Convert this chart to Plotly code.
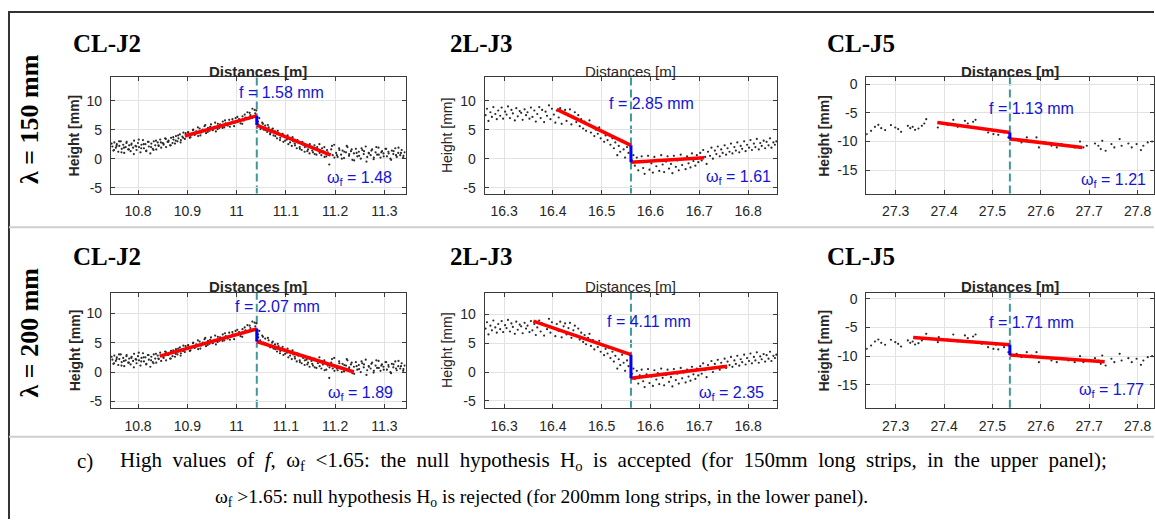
import plotly.graph_objects as go

W, H = 1155, 521

# ---------------- data ----------------
j2_x = [10.748, 10.750, 10.752, 10.755, 10.757, 10.760, 10.762, 10.765, 10.767, 10.770, 10.772, 10.775, 10.777, 10.780,
        10.782, 10.785, 10.787, 10.790, 10.792, 10.795, 10.797, 10.800, 10.802, 10.805, 10.807, 10.810, 10.812, 10.815,
        10.817, 10.820, 10.822, 10.825, 10.827, 10.830, 10.832, 10.835, 10.837, 10.840, 10.842, 10.845, 10.847, 10.850,
        10.852, 10.855, 10.857, 10.860, 10.862, 10.865, 10.867, 10.870, 10.872, 10.875, 10.877, 10.880, 10.882, 10.885,
        10.887, 10.890, 10.892, 10.895,
        10.898, 10.902, 10.905, 10.908, 10.912, 10.915, 10.918, 10.922, 10.925, 10.928, 10.932, 10.935, 10.938, 10.942,
        10.945, 10.948, 10.952, 10.955, 10.958, 10.962, 10.965, 10.968, 10.972, 10.975, 10.978, 10.982, 10.985, 10.988,
        10.992, 10.995, 10.998, 11.002, 11.005, 11.008, 11.012, 11.015, 11.018, 11.022, 11.025, 11.028, 11.032, 11.035,
        11.038, 11.040,
        11.044, 11.046, 11.048, 11.052, 11.055, 11.058, 11.062, 11.065, 11.068, 11.072, 11.075, 11.078, 11.082, 11.085,
        11.088, 11.092, 11.095, 11.098, 11.102, 11.105, 11.108, 11.112, 11.115, 11.118, 11.122, 11.125, 11.128, 11.132,
        11.135, 11.138, 11.142, 11.145, 11.148, 11.152, 11.155, 11.158, 11.162, 11.165, 11.168, 11.172, 11.175, 11.178,
        11.182, 11.185, 11.188, 11.192, 11.195, 11.198,
        11.202, 11.205, 11.208, 11.212, 11.215, 11.218, 11.222, 11.225, 11.228, 11.232, 11.235, 11.238, 11.242, 11.245,
        11.248, 11.252, 11.255, 11.258, 11.262, 11.265, 11.268, 11.272, 11.275, 11.278, 11.282, 11.285, 11.288, 11.292,
        11.295, 11.298, 11.302, 11.305, 11.308, 11.312, 11.315, 11.318, 11.322, 11.325, 11.328, 11.332, 11.335, 11.338,
        11.341,
        # second batch of readings
        10.7465, 10.7515, 10.7565, 10.7615, 10.7665, 10.7715, 10.7765, 10.7815, 10.7865, 10.7915, 10.7965, 10.8015,
        10.8065, 10.8115, 10.8165, 10.8215, 10.8265, 10.8315, 10.8365, 10.8415, 10.8465,
        10.8515, 10.8565, 10.8615, 10.8665, 10.8715, 10.8765, 10.8815, 10.8865, 10.8915, 10.8965,
        10.9015, 10.9065, 10.9115, 10.9165, 10.9215, 10.9265, 10.9315, 10.9365, 10.9415, 10.9465, 10.9515, 10.9565,
        10.9615, 10.9665, 10.9715, 10.9765, 10.9815, 10.9865, 10.9915, 10.9965, 11.0015, 11.0065, 11.0115, 11.0165,
        11.0215, 11.0265, 11.0315, 11.0365,
        11.0435, 11.0485, 11.0535, 11.0585, 11.0635, 11.0685, 11.0735, 11.0785, 11.0835, 11.0885, 11.0935, 11.0985,
        11.1035, 11.1085, 11.1135, 11.1185, 11.1235, 11.1285, 11.1335, 11.1385, 11.1435, 11.1485, 11.1535, 11.1585,
        11.1635, 11.1685, 11.1735, 11.1785, 11.1835, 11.1885, 11.1935, 11.1985,
        11.2035, 11.2085, 11.2135, 11.2185, 11.2235, 11.2285, 11.2335, 11.2385, 11.2435, 11.2485, 11.2535, 11.2585,
        11.2635, 11.2685, 11.2735, 11.2785, 11.2835, 11.2885, 11.2935, 11.2985, 11.3035, 11.3085, 11.3135, 11.3185,
        11.3235, 11.3285, 11.3335, 11.3385]
j2_y = [2.1, 1.4, 2.8, 1.9, 2.5, 1.2, 2.2, 3.0, 1.7, 2.4, 1.0, 2.0, 2.9, 1.6,
        2.3, 1.3, 2.6, 1.9, 3.1, 2.2, 1.5, 2.7, 2.0, 1.1, 2.4, 3.2, 1.8, 2.5,
        1.4, 2.9, 2.1, 0.9, 2.6, 1.7, 3.0, 2.3, 1.6, 2.8, 2.2, 3.3, 1.9, 2.7,
        2.4, 3.5, 2.0, 2.9, 3.1, 2.3, 3.6, 2.7, 3.3, 2.6, 3.9, 3.0, 3.5, 4.2,
        3.2, 3.8, 4.5, 3.4,
        4.0, 4.6, 3.6, 4.3, 5.0, 4.1, 4.7, 3.9, 5.2, 4.5, 4.9, 5.6, 4.4, 5.3,
        4.8, 5.9, 5.0, 5.5, 4.7, 6.0, 5.3, 5.8, 6.4, 5.4, 6.1, 5.7, 6.7, 6.0,
        6.4, 5.6, 7.0, 6.3, 6.8, 6.1, 7.3, 6.6, 7.1, 8.0, 6.9, 7.5, 8.6, 7.2,
        7.8, 8.3,
        5.9, 7.0, 5.4, 6.2, 5.0, 5.7, 4.6, 5.4, 4.2, 5.0, 4.0, 4.7, 3.5, 4.4,
        3.2, 4.0, 2.9, 3.8, 3.3, 2.5, 3.5, 2.2, 3.0, 2.6, 1.8, 2.8, 2.0, 1.5,
        2.4, 1.2, 2.1, 1.6, 0.9, 1.9, 1.1, 2.3, 0.7, 1.5, 2.5, 0.6, 1.3, 2.0,
        0.4, 1.1, -1.0, 1.6, 0.6, 2.4,
        1.0, 0.3, 1.8, 0.7, 1.4, 0.1, 1.1, 2.0, 0.5, 1.3, -0.2, 0.9, 1.7, 0.4,
        1.2, 0.0, 1.5, 0.8, 2.1, 0.3, 1.0, 0.6, 1.6, -0.1, 1.1, 0.7, 1.9, 0.2,
        1.3, 0.9, 1.7, 0.4, 1.2, 0.0, 1.4, 0.8, 1.8, 0.3, 1.0, 0.6, 1.5, 0.2,
        1.1,
        # second batch of readings
        2.6, 1.5, 2.2, 3.0, 1.1, 1.9, 2.7, 1.6, 2.4, 0.8, 2.1, 3.3,
        1.8, 2.5, 1.3, 2.9, 2.0, 1.5, 3.1, 2.3, 2.8,
        2.6, 3.4, 2.9, 2.3, 3.7, 3.1, 4.0, 2.8, 3.6, 4.4,
        4.5, 3.7, 4.9, 4.3, 5.4, 4.0, 5.0, 5.8, 4.6, 5.5, 4.9, 6.2,
        5.1, 5.9, 5.3, 6.6, 6.0, 5.5, 6.8, 6.2, 7.2, 6.5, 6.0, 7.6,
        6.8, 7.9, 7.0, 8.4,
        6.4, 5.1, 6.0, 4.9, 5.8, 4.4, 5.2, 3.9, 4.8, 3.6, 4.3, 3.1,
        4.0, 2.8, 3.7, 2.3, 3.2, 1.7, 2.9, 2.0, 1.3, 2.5, 1.4, 0.8,
        2.0, 1.0, 1.8, 0.3, 1.5, 0.8, 2.2, 0.2,
        0.6, 1.5, 0.0, 1.2, 2.2, 0.8, 1.6, -0.3, 1.0, 0.5, 1.8, 1.3,
        -0.5, 0.9, 1.4, 0.2, 2.0, 0.7, 1.1, 0.4, 1.7, 0.9, -0.2, 1.3,
        0.6, 1.9, 1.0, 0.5]

j3_x = [16.262, 16.265, 16.268, 16.272, 16.275, 16.278, 16.282, 16.285, 16.288, 16.292, 16.295, 16.298, 16.302, 16.305,
        16.308, 16.312, 16.315, 16.318, 16.322, 16.325, 16.328, 16.332, 16.335, 16.338, 16.342, 16.345, 16.348, 16.352,
        16.355, 16.358, 16.362, 16.365, 16.368, 16.372, 16.375, 16.378, 16.382, 16.385, 16.388, 16.392, 16.395, 16.398,
        16.402, 16.405, 16.408, 16.412, 16.415, 16.418, 16.422, 16.425, 16.428, 16.432, 16.435, 16.438, 16.442, 16.445,
        16.448, 16.452, 16.455, 16.458, 16.462, 16.465, 16.468, 16.472, 16.475, 16.478, 16.482, 16.485, 16.488, 16.492,
        16.495, 16.498, 16.502, 16.505, 16.508, 16.512, 16.515, 16.518, 16.522, 16.525, 16.528, 16.532, 16.535, 16.538,
        16.542, 16.545, 16.548, 16.552, 16.555,
        16.562, 16.565, 16.568, 16.572, 16.575, 16.578, 16.582, 16.585, 16.588, 16.592, 16.595, 16.598, 16.602, 16.605,
        16.608, 16.612, 16.615, 16.618, 16.622, 16.625, 16.628, 16.632, 16.635, 16.638, 16.642, 16.645, 16.648, 16.652,
        16.655, 16.658, 16.662, 16.665, 16.668, 16.672, 16.675, 16.678, 16.682, 16.685, 16.688, 16.692, 16.695, 16.698,
        16.702, 16.705, 16.708, 16.712, 16.715, 16.718, 16.722, 16.725, 16.728, 16.732, 16.735, 16.738, 16.742, 16.745,
        16.748, 16.752, 16.755, 16.758, 16.762, 16.765, 16.768, 16.772, 16.775, 16.778, 16.782, 16.785, 16.788, 16.792,
        16.795, 16.798, 16.802, 16.805, 16.808, 16.812, 16.815, 16.818, 16.822, 16.825, 16.828, 16.832, 16.835, 16.838,
        16.842, 16.845, 16.848, 16.852, 16.855, 16.858]
j3_y = [7.5, 8.6, 6.5, 8.0, 7.2, 8.9, 7.7, 6.8, 8.3, 7.4, 8.8, 6.9, 8.1, 7.6,
        9.0, 7.0, 8.4, 7.8, 6.6, 8.7, 7.3, 8.2, 7.9, 6.7, 8.5, 7.5, 8.0, 6.9,
        8.8, 7.2, 8.3, 6.4, 7.7, 8.9, 7.0, 8.4, 6.3, 8.1, 7.4, 9.2, 6.8, 8.6,
        7.6, 6.2, 8.3, 7.1, 8.7, 6.0, 7.9, 8.4, 6.5, 7.6, 8.5, 5.9, 7.2, 8.0,
        6.3, 7.5, 5.6, 6.8, 5.2, 6.4, 4.8, 5.9, 6.6, 4.5, 5.5, 3.9, 5.0, 4.3,
        5.4, 3.5, 4.6, 2.9, 4.0, 3.2, 4.2, 2.4, 3.5, 1.8, 2.8, 0.6, 2.2, 1.2,
        3.0, 1.6, 0.2, 2.0, 1.0,
        -0.3, 0.6, -1.2, 0.2, -2.0, -0.6, 0.4, -1.6, -2.6, -0.4, 0.5, -1.9, -0.8, -2.4,
        0.3, -1.3, -0.2, -2.1, 0.6, -1.0, -2.3, -0.5, 0.4, -1.7, -0.9, -2.5, 0.5, -1.4,
        -0.3, -2.0, 0.7, -1.1, -0.1, -1.8, 0.4, -0.8, -1.5, 0.9, -0.4, -1.2, 0.6, -0.6,
        1.0, -0.3, 1.5, 0.3, -0.9, 1.2, 0.5, 1.9, 0.0, 1.4, 0.8, 2.1, 0.4, 1.6,
        1.0, 2.3, 0.7, 1.8, 1.2, 2.6, 0.9, 2.0, 1.4, 2.8, 1.1, 2.2, 1.7, 3.0,
        1.3, 2.4, 1.9, 3.2, 1.5, 2.6, 2.0, 3.4, 1.6, 2.7, 2.2, 3.1, 1.8, 2.9,
        2.3, 3.5, 1.9, 2.8, 2.4, 3.0]

j5_x = [27.240, 27.249, 27.257, 27.264, 27.270, 27.278, 27.290, 27.299, 27.305, 27.311, 27.325, 27.330, 27.335, 27.340,
        27.347, 27.354, 27.359, 27.363, 27.387, 27.389, 27.407, 27.419, 27.428, 27.443, 27.449, 27.460, 27.465, 27.478,
        27.491, 27.502, 27.507, 27.512, 27.524, 27.533, 27.550, 27.560, 27.571, 27.581, 27.591, 27.596, 27.608, 27.622,
        27.633, 27.643, 27.657, 27.670, 27.681, 27.688, 27.695, 27.712, 27.719, 27.724, 27.727, 27.734, 27.746, 27.752,
        27.763, 27.767, 27.781, 27.788, 27.798, 27.807, 27.812, 27.821, 27.830]
j5_y = [-8.71, -8.14, -7.44, -7.09, -7.67, -8.01, -7.14, -7.56, -7.84, -8.31, -7.26, -7.67, -7.44, -7.96,
        -7.73, -7.26, -6.86, -6.10, -7.56, -6.68, -7.09, -6.22, -7.44, -6.39, -6.86, -6.57, -6.22, -7.84,
        -8.43, -8.71, -8.01, -8.83, -8.43, -9.30, -9.58, -10.17, -9.30, -9.88, -9.30, -11.04, -10.17, -10.75,
        -11.04, -10.45, -10.75, -11.04, -10.00, -11.04, -10.75, -10.35, -10.75, -11.33, -9.88, -11.62, -10.45, -11.04,
        -9.58, -10.75, -10.35, -11.04, -10.45, -11.50, -10.75, -10.17, -10.00]

panel_names = ["CL-J2", "2L-J3", "CL-J5"]
row_labels = ["λ = 150 mm", "λ = 200 mm"]
scatter_x = [j2_x, j3_x, j5_x]
scatter_y = [j2_y, j3_y, j5_y]

x_ticks = [[10.8, 10.9, 11.0, 11.1, 11.2, 11.3],
           [16.3, 16.4, 16.5, 16.6, 16.7, 16.8],
           [27.3, 27.4, 27.5, 27.6, 27.7, 27.8]]
x_ticktext = [["10.8", "10.9", "11", "11.1", "11.2", "11.3"],
              ["16.3", "16.4", "16.5", "16.6", "16.7", "16.8"],
              ["27.3", "27.4", "27.5", "27.6", "27.7", "27.8"]]
y_ticks = [[-5, 0, 5, 10], [-5, 0, 5, 10], [-15, -10, -5, 0]]
y_ticktext = [["-5", "0", "5", "10"], ["-5", "0", "5", "10"], ["-15", "-10", "-5", "0"]]
x_ranges = [[10.745, 11.343], [16.26, 16.86], [27.239, 27.834]]
y_ranges = [[[-6.0, 14.0], [-6.0, 14.0], [-19.1, 1.2]],
            [[-6.1, 13.5], [-6.2, 13.7], [-19.0, 1.05]]]

joint_x = [11.041, 16.56, 27.536]
# fitted segments per row / panel
fit_left_x0 = [[10.895, 16.408, 27.386], [10.844, 16.36, 27.336]]
fit_left_y0 = [[3.9, 8.5, -6.7], [2.7, 8.8, -6.75]]
fit_left_y1 = [[7.4, 2.3, -8.45], [7.35, 3.0, -8.0]]
fit_right_y0 = [[5.8, -0.6, -9.55], [5.2, -1.1, -9.8]]
fit_right_x1 = [[11.191, 16.71, 27.686], [11.238, 16.757, 27.732]]
fit_right_y1 = [[0.6, 0.15, -11.05], [0.0, 1.0, -10.95]]
f_values = [["1.58", "2.85", "1.13"], ["2.07", "4.11", "1.71"]]
omega_values = [["1.48", "1.61", "1.21"], ["1.89", "2.35", "1.77"]]

caption_1 = "High values of <i>f</i>, ω<sub>f</sub> <1.65: the null hypothesis H<sub>o</sub> is accepted (for 150mm long strips, in the upper panel);"
caption_2 = "ω<sub>f</sub> >1.65: null hypothesis H<sub>o</sub> is rejected (for 200mm long strips, in the lower panel)."

# ---------------- layout geometry (pixels) ----------------
col_px = [(111, 406), (485, 778), (867, 1155)]
row_px = [(76, 193), (293, 409)]
ytitle_px = [75, 448, 825]
title_px = [71, 448, 826]
title_y = [42, 256]
f_pos = [[(237, 91), (608, 102), (988, 107)], [(233, 307), (606, 322), (988, 323)]]
w_pos = [[(325, 178), (705, 177), (1080, 180)], [(326, 395), (698, 395), (1078, 392)]]
bold_axis = [True, False, True]


def px(x):
    return x / W


def py(y):
    return 1 - y / H


TXT = "#262626"
BLUE = "rgb(20,20,215)"
SANS = "Liberation Sans, Arial, sans-serif"
SERIF = "Liberation Serif, Times New Roman, serif"

fig = go.Figure()
annotations = []
shapes = []
layout_axes = {}

for r in range(2):
    for c in range(3):
        i = r * 3 + c + 1
        xa = "x" if i == 1 else f"x{i}"
        ya = "y" if i == 1 else f"y{i}"
        xk = "xaxis" if i == 1 else f"xaxis{i}"
        yk = "yaxis" if i == 1 else f"yaxis{i}"
        x0p, x1p = col_px[c]
        y0p, y1p = row_px[r]
        common = dict(showgrid=True, gridcolor="#e3e3e3", gridwidth=1, zeroline=False,
                      showline=True, linecolor="#3a3a3a", linewidth=1, mirror="ticks",
                      ticks="inside", ticklen=4, tickcolor="#3a3a3a",
                      tickfont=dict(family=SANS, size=14, color=TXT))
        layout_axes[xk] = dict(common, domain=[px(x0p), min(1.0, px(x1p))], anchor=ya,
                               range=x_ranges[c], tickvals=x_ticks[c], ticktext=x_ticktext[c],
                               ticklabelstandoff=5)
        layout_axes[yk] = dict(common, domain=[py(y1p), py(y0p)], anchor=xa,
                               range=y_ranges[r][c], tickvals=y_ticks[c], ticktext=y_ticktext[c],
                               ticklabelstandoff=5)

        fig.add_trace(go.Scatter(x=scatter_x[c], y=scatter_y[c], mode="markers", xaxis=xa, yaxis=ya,
                                 marker=dict(size=2.2, color="#2a2a2a"), showlegend=False, hoverinfo="skip"))
        jx = joint_x[c]
        fig.add_trace(go.Scatter(x=[fit_left_x0[r][c], jx], y=[fit_left_y0[r][c], fit_left_y1[r][c]],
                                 mode="lines", line=dict(color="#ff0000", width=3.5), xaxis=xa, yaxis=ya,
                                 showlegend=False, hoverinfo="skip"))
        fig.add_trace(go.Scatter(x=[jx, fit_right_x1[r][c]], y=[fit_right_y0[r][c], fit_right_y1[r][c]],
                                 mode="lines", line=dict(color="#ff0000", width=3.5), xaxis=xa, yaxis=ya,
                                 showlegend=False, hoverinfo="skip"))
        fig.add_trace(go.Scatter(x=[jx, jx], y=[fit_left_y1[r][c], fit_right_y0[r][c]],
                                 mode="lines", line=dict(color="#0000ff", width=3), xaxis=xa, yaxis=ya,
                                 showlegend=False, hoverinfo="skip"))
        shapes.append(dict(type="line", xref=xa, yref=f"{ya} domain", x0=jx, x1=jx, y0=0, y1=1,
                           line=dict(color="rgb(62,154,154)", width=2, dash="8px,4px"), layer="below"))

        bw = bold_axis[c]
        annotations.append(dict(x=px((x0p + min(x1p, 1155)) / 2) if c < 2 else px(1011), y=py(y0p - 6),
                                xref="paper", yref="paper", showarrow=False,
                                text="<b>Distances [m]</b>" if bw else "Distances [m]",
                                font=dict(family=SANS, size=15, color=TXT), xanchor="center", yanchor="middle"))
        annotations.append(dict(x=px(ytitle_px[c]), y=py((y0p + y1p) / 2), xref="paper", yref="paper",
                                showarrow=False, textangle=-90,
                                text="<b>Height [mm]</b>" if bw else "Height [mm]",
                                font=dict(family=SANS, size=14, color=TXT), xanchor="center", yanchor="middle"))
        annotations.append(dict(x=px(title_px[c]), y=py(title_y[r]), xref="paper", yref="paper", showarrow=False,
                                text=f"<b>{panel_names[c]}</b>", font=dict(family=SERIF, size=25, color="black"),
                                xanchor="left", yanchor="middle"))
        fx, fy = f_pos[r][c]
        annotations.append(dict(x=px(fx), y=py(fy), xref="paper", yref="paper", showarrow=False,
                                text=f"f = {f_values[r][c]} mm", font=dict(family=SANS, size=16, color=BLUE),
                                xanchor="left", yanchor="middle"))
        wx, wy = w_pos[r][c]
        annotations.append(dict(x=px(wx), y=py(wy), xref="paper", yref="paper", showarrow=False,
                                text=f"ω<sub>f</sub> = {omega_values[r][c]}", font=dict(family=SANS, size=16, color=BLUE),
                                xanchor="left", yanchor="middle"))

# row labels
for r, yc in enumerate([118, 333]):
    annotations.append(dict(x=px(29), y=py(yc), xref="paper", yref="paper", showarrow=False, textangle=-90,
                            text=f"<b>{row_labels[r]}</b>", font=dict(family=SERIF, size=26, color="black"),
                            xanchor="center", yanchor="middle"))

# caption (first line is justified in the original: slightly wider word gaps)
caption_1_justified = caption_1.replace(" ", " \u00a0")
annotations.append(dict(x=px(75), y=py(463), xref="paper", yref="paper", showarrow=False, text="c)",
                        font=dict(family=SERIF, size=21, color="black"), xanchor="left", yanchor="middle"))
annotations.append(dict(x=px(118), y=py(463), xref="paper", yref="paper", showarrow=False, text=caption_1_justified,
                        font=dict(family=SERIF, size=21, color="black"), xanchor="left", yanchor="middle"))
annotations.append(dict(x=px(213), y=py(500), xref="paper", yref="paper", showarrow=False, text=caption_2,
                        font=dict(family=SERIF, size=19.5, color="black"), xanchor="left", yanchor="middle"))

# frame lines
shapes.append(dict(type="line", xref="paper", yref="paper", x0=px(8), x1=1, y0=py(10), y1=py(10),
                   line=dict(color="#333333", width=2)))
shapes.append(dict(type="line", xref="paper", yref="paper", x0=px(9), x1=px(9), y0=py(10), y1=0,
                   line=dict(color="#333333", width=2)))
for yy in [227, 438]:
    shapes.append(dict(type="line", xref="paper", yref="paper", x0=px(9), x1=1, y0=py(yy), y1=py(yy),
                       line=dict(color="#cfcfcf", width=2)))

fig.update_layout(width=W, height=H, margin=dict(l=0, r=0, t=0, b=0),
                  paper_bgcolor="white", plot_bgcolor="white",
                  annotations=annotations, shapes=shapes, **layout_axes)

fig.write_html("out.html")
